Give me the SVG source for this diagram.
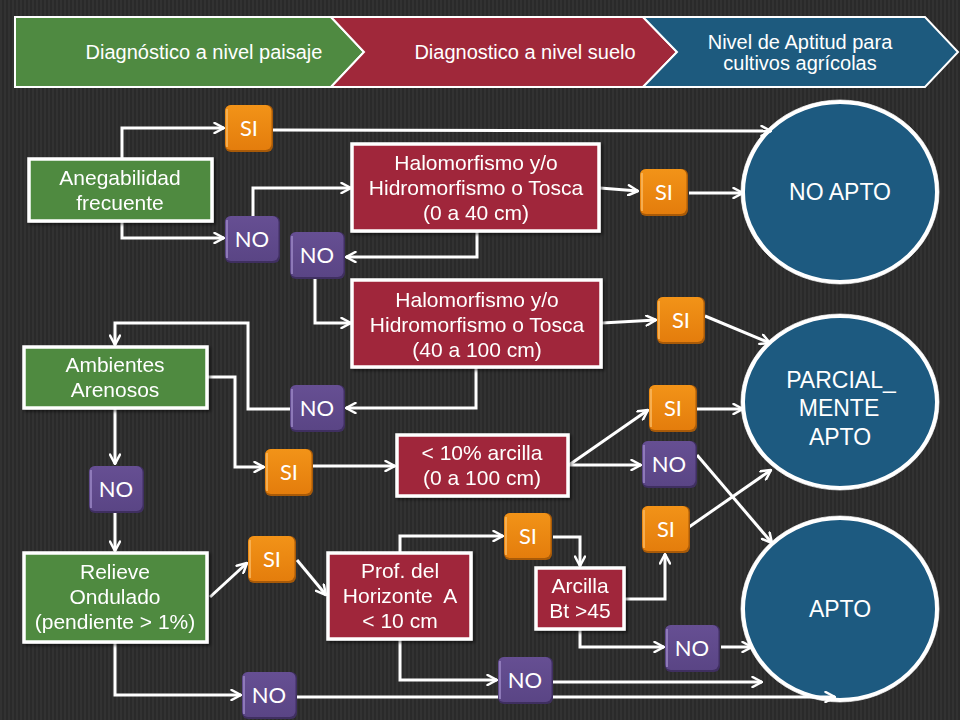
<svg xmlns="http://www.w3.org/2000/svg" width="960" height="720" viewBox="0 0 960 720">
<style>
.hd{font-family:"Liberation Sans",Arial,sans-serif;font-size:20px;fill:#fff;text-anchor:middle}
.nt{font-family:"Liberation Sans",Arial,sans-serif;font-size:21px;fill:#fff;text-anchor:middle;white-space:pre}
.ct{font-family:"Liberation Sans",Arial,sans-serif;font-size:23px;fill:#fff;text-anchor:middle}
.bt{font-family:Lato,"Open Sans",sans-serif;font-size:22px;fill:#fff;text-anchor:middle}
.gr{fill:#4f8a41;stroke:#fff;stroke-width:3.5}
.rd{fill:#a0283a;stroke:#fff;stroke-width:3.5}
.el{fill:#1d5a80;stroke:#fff;stroke-width:4}
.elo{fill:none;stroke:#bdbdbd;stroke-width:1}
.cn{fill:none;stroke:#fff;stroke-width:3;marker-end:url(#ah)}
</style>
<defs>
<pattern id="bg" width="4" height="4" patternUnits="userSpaceOnUse"><rect width="4" height="4" fill="#2a2a2a"/><rect width="2" height="4" fill="#323232"/></pattern>
<linearGradient id="gO" x1="0" y1="0" x2="0" y2="1"><stop offset="0" stop-color="#f29318"/><stop offset="1" stop-color="#e47d0c"/></linearGradient>
<linearGradient id="gP" x1="0" y1="0" x2="0" y2="1"><stop offset="0" stop-color="#664f93"/><stop offset="1" stop-color="#5a4585"/></linearGradient>
<marker id="ah" viewBox="0 0 12 12" refX="11" refY="6" markerWidth="12" markerHeight="12" markerUnits="userSpaceOnUse" orient="auto"><path d="M1.5,1 L11,6 L1.5,11" fill="none" stroke="#fff" stroke-width="2.5" stroke-linecap="round" stroke-linejoin="round"/></marker>
<filter id="sh" x="-10%" y="-10%" width="130%" height="130%"><feDropShadow dx="2" dy="2" stdDeviation="1.5" flood-color="#000" flood-opacity="0.5"/></filter>
<symbol id="siB" viewBox="0 0 48 47" width="48" height="47"><rect x="0" y="0" width="48" height="47" rx="6" fill="#a85a08"/><rect x="0" y="0" width="46.5" height="45" rx="6" fill="url(#gO)"/><rect x="1" y="4" width="2" height="38" fill="#f9b860" opacity="0.8"/></symbol>
<symbol id="noB" viewBox="0 0 55 47" width="55" height="47"><rect x="0" y="0" width="55" height="47" rx="6" fill="#3f2f60"/><rect x="0" y="0" width="53.5" height="45" rx="6" fill="url(#gP)"/><rect x="1" y="4" width="2" height="38" fill="#9a86c4" opacity="0.8"/></symbol>
</defs>
<rect width="960" height="720" fill="url(#bg)"/>

<g id="header">
<polygon points="15,17 331,17 364,52 331,87 15,87" fill="#4f8a41" stroke="#fff" stroke-width="2"/>
<polygon points="331,17 643,17 677,52 643,87 331,87 364,52" fill="#a0283a" stroke="#fff" stroke-width="2"/>
<polygon points="643,17 925,17 958,52 925,87 643,87 677,52" fill="#1d5a7e" stroke="#fff" stroke-width="2"/>
<text class="hd" x="204" y="59">Diagnóstico a nivel paisaje</text>
<text class="hd" x="525" y="59">Diagnostico a nivel suelo</text>
<text class="hd" x="800" y="49">Nivel de Aptitud para</text>
<text class="hd" x="800" y="70">cultivos agrícolas</text>
</g>

<g id="noapto"><ellipse class="elo" cx="840" cy="192" rx="99" ry="92"/><ellipse class="el" cx="840" cy="192" rx="97" ry="90"/><text class="ct" x="840" y="200">NO APTO</text></g>
<g id="parcial"><ellipse class="elo" cx="840" cy="402" rx="99" ry="88"/><ellipse class="el" cx="840" cy="402" rx="97" ry="86"/><text class="ct" x="841" y="388">PARCIAL_</text><text class="ct" x="839" y="416">MENTE</text><text class="ct" x="840" y="445">APTO</text></g>
<g id="apto"><ellipse class="elo" cx="840" cy="609" rx="99" ry="93"/><ellipse class="el" cx="840" cy="609" rx="97" ry="91"/><text class="ct" x="840" y="617">APTO</text></g>

<g id="connectors">
<path class="cn" d="M122,158 V128 H224"/>
<path class="cn" d="M122,222 V238 H224"/>
<path class="cn" d="M273,130 L771,131"/>
<path class="cn" d="M253,217 V188 H351"/>
<path class="cn" d="M600,188 L638,191"/>
<path class="cn" d="M689,193 H743"/>
<path class="cn" d="M477,232 V257 H346"/>
<path class="cn" d="M315,278 V323 H351"/>
<path class="cn" d="M602,323 L656,320"/>
<path class="cn" d="M705,316 L770,343"/>
<path class="cn" d="M476,368 V408 H346"/>
<path class="cn" d="M290,409 H248 V323 H115 V345"/>
<path class="cn" d="M208,377 H235 V467 H264"/>
<path class="cn" d="M313,466 H395"/>
<path class="cn" d="M115,409 V464"/>
<path class="cn" d="M115,513 V551"/>
<path class="cn" d="M569,465 L648,410"/>
<path class="cn" d="M569,465 H641"/>
<path class="cn" d="M697,409 H743"/>
<path class="cn" d="M697,455 L772,543"/>
<path class="cn" d="M210,597 L247,563"/>
<path class="cn" d="M297,560 L326,595"/>
<path class="cn" d="M115,643 V695 H241"/>
<path class="cn" d="M297,697 H835"/>
<path class="cn" d="M400,552 V536 H503"/>
<path class="cn" d="M553,537 H580 V566"/>
<path class="cn" d="M625,599 H665 V554"/>
<path class="cn" d="M689,527 L771,470"/>
<path class="cn" d="M580,630 V647 H664"/>
<path class="cn" d="M721,647 H752"/>
<path class="cn" d="M400,640 V680 H497"/>
<path class="cn" d="M553,682 H762"/>
</g>

<g id="anegabilidad" filter="url(#sh)"><rect class="gr" x="29" y="159" width="183" height="62"/><text class="nt" x="120" y="185">Anegabilidad</text><text class="nt" x="120" y="210">frecuente</text></g>
<g id="halo1" filter="url(#sh)"><rect class="rd" x="352" y="144" width="247" height="87"/><text class="nt" x="476" y="170">Halomorfismo y/o</text><text class="nt" x="476" y="195">Hidromorfismo o Tosca</text><text class="nt" x="476" y="220">(0 a 40 cm)</text></g>
<g id="halo2" filter="url(#sh)"><rect class="rd" x="352" y="280" width="249" height="87"/><text class="nt" x="477" y="307">Halomorfismo y/o</text><text class="nt" x="477" y="332">Hidromorfismo o Tosca</text><text class="nt" x="477" y="357">(40 a 100 cm)</text></g>
<g id="ambientes" filter="url(#sh)"><rect class="gr" x="24" y="347" width="183" height="61"/><text class="nt" x="115" y="372">Ambientes</text><text class="nt" x="115" y="397">Arenosos</text></g>
<g id="arcilla10" filter="url(#sh)"><rect class="rd" x="397" y="435" width="171" height="61"/><text class="nt" x="482" y="460">&lt; 10% arcilla</text><text class="nt" x="482" y="485">(0 a 100 cm)</text></g>
<g id="relieve" filter="url(#sh)"><rect class="gr" x="24" y="553" width="183" height="89"/><text class="nt" x="115" y="579">Relieve</text><text class="nt" x="115" y="604">Ondulado</text><text class="nt" x="115" y="629">(pendiente &gt; 1%)</text></g>
<g id="prof" filter="url(#sh)"><rect class="rd" x="328" y="553" width="143" height="86"/><text class="nt" x="400" y="578">Prof. del</text><text class="nt" x="400" y="603">Horizonte  A</text><text class="nt" x="400" y="628">&lt; 10 cm</text></g>
<g id="arcillaBt" filter="url(#sh)"><rect class="rd" x="536" y="568" width="88" height="61"/><text class="nt" x="580" y="593">Arcilla</text><text class="nt" x="580" y="618">Bt &gt;45</text></g>

<g id="si1"><use href="#siB" x="225" y="105"/><text class="bt" x="249" y="136">SI</text></g>
<g id="no1"><use href="#noB" x="225" y="216"/><text class="bt" x="252" y="247">NO</text></g>
<g id="no2"><use href="#noB" x="290" y="232"/><text class="bt" x="317" y="263">NO</text></g>
<g id="si2"><use href="#siB" x="640" y="169"/><text class="bt" x="664" y="200">SI</text></g>
<g id="si3"><use href="#siB" x="657" y="297"/><text class="bt" x="681" y="328">SI</text></g>
<g id="no3"><use href="#noB" x="290" y="385"/><text class="bt" x="317" y="416">NO</text></g>
<g id="si4"><use href="#siB" x="265" y="449"/><text class="bt" x="289" y="480">SI</text></g>
<g id="no4"><use href="#noB" x="89" y="466"/><text class="bt" x="116" y="497">NO</text></g>
<g id="si5"><use href="#siB" x="649" y="385"/><text class="bt" x="673" y="416">SI</text></g>
<g id="no5"><use href="#noB" x="642" y="441"/><text class="bt" x="669" y="472">NO</text></g>
<g id="si6"><use href="#siB" x="248" y="536"/><text class="bt" x="272" y="567">SI</text></g>
<g id="si7"><use href="#siB" x="504" y="513"/><text class="bt" x="528" y="544">SI</text></g>
<g id="si8"><use href="#siB" x="642" y="506"/><text class="bt" x="666" y="537">SI</text></g>
<g id="no7"><use href="#noB" x="665" y="625"/><text class="bt" x="692" y="656">NO</text></g>
<g id="no8"><use href="#noB" x="498" y="657"/><text class="bt" x="525" y="688">NO</text></g>
<g id="no6"><use href="#noB" x="242" y="672"/><text class="bt" x="269" y="703">NO</text></g>
</svg>
